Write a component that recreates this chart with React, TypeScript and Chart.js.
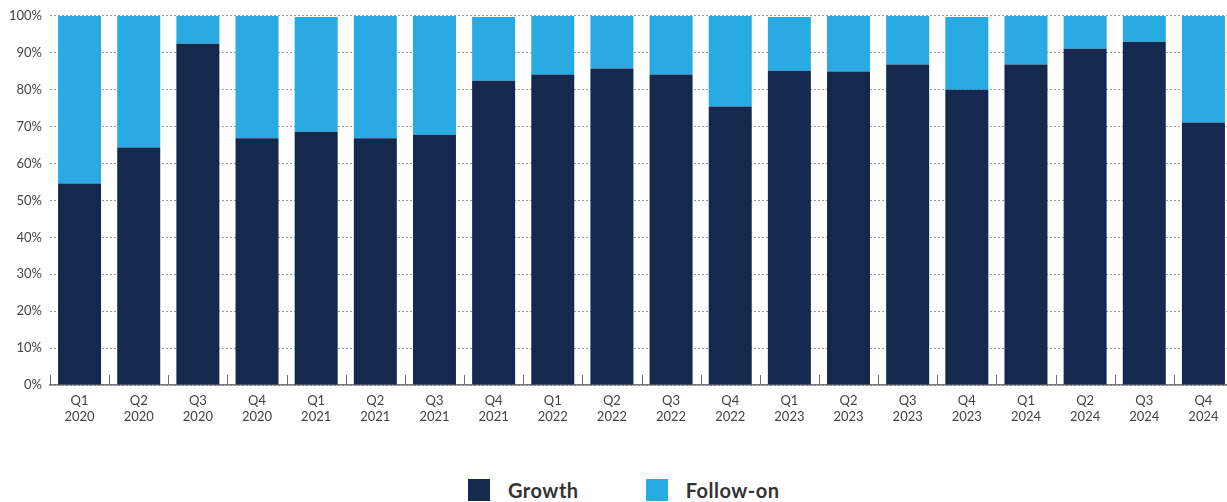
import React, { useEffect, useRef } from "react";
import { Chart, registerables } from "chart.js";

Chart.register(...registerables);

const categories: string[][] = [
  ["Q1", "2020"], ["Q2", "2020"], ["Q3", "2020"], ["Q4", "2020"],
  ["Q1", "2021"], ["Q2", "2021"], ["Q3", "2021"], ["Q4", "2021"],
  ["Q1", "2022"], ["Q2", "2022"], ["Q3", "2022"], ["Q4", "2022"],
  ["Q1", "2023"], ["Q2", "2023"], ["Q3", "2023"], ["Q4", "2023"],
  ["Q1", "2024"], ["Q2", "2024"], ["Q3", "2024"], ["Q4", "2024"],
];

const growth: number[] = [
  54.6, 64.3, 92.4, 66.8, 68.6, 66.8, 67.8, 82.4, 84.1, 85.7,
  84.1, 75.4, 85.1, 84.9, 86.8, 80.0, 86.8, 91.1, 93.0, 71.1,
];

const followOn: number[] = [
  45.4, 35.7, 7.6, 33.2, 31.1, 33.2, 32.2, 17.3, 15.9, 14.3,
  15.9, 24.6, 14.6, 15.1, 13.2, 19.7, 13.2, 8.9, 7.0, 28.9,
];

const yTicks: number[] = [0, 10, 20, 30, 40, 50, 60, 70, 80, 90, 100];

const NAVY = "#15294f";
const BLUE = "#29aae2";
const TEXT = "#444444";

const innerTicks = {
  id: "innerTicks",
  afterDatasetsDraw(chart: any) {
    const x = chart.scales.x;
    const area = chart.chartArea;
    const n = categories.length;
    const w = (area.right - area.left) / n;
    const ctx = chart.ctx;
    ctx.save();
    ctx.strokeStyle = "#6f6f6f";
    ctx.lineWidth = 1;
    for (let i = 0; i < n; i++) {
      const px = Math.round(x.getPixelForValue(i) - w / 2) + 0.5;
      ctx.beginPath();
      ctx.moveTo(px, area.bottom);
      ctx.lineTo(px, area.bottom - 10);
      ctx.stroke();
    }
    ctx.restore();
  },
};

export default function App() {
  const ref = useRef<HTMLCanvasElement | null>(null);

  useEffect(() => {
    if (!ref.current) return;
    const chart = new Chart(ref.current, {
      type: "bar",
      data: {
        labels: categories,
        datasets: [
          {
            label: "Growth",
            data: growth,
            backgroundColor: NAVY,
            barPercentage: 0.727,
            categoryPercentage: 1,
          },
          {
            label: "Follow-on",
            data: followOn,
            backgroundColor: BLUE,
            barPercentage: 0.727,
            categoryPercentage: 1,
          },
        ],
      },
      options: {
        animation: false,
        responsive: false,
        maintainAspectRatio: false,
        layout: { padding: { top: 15, right: 0, bottom: 0, left: 0 } },
        plugins: {
          legend: { display: false },
          tooltip: { enabled: false },
        },
        scales: {
          x: {
            stacked: true,
            grid: { display: false, drawTicks: false },
            border: { display: true, color: "#777777", width: 1.5 },
            ticks: {
              color: TEXT,
              padding: 8,
              maxRotation: 0,
              autoSkip: false,
              font: { family: "Lato", size: 13, lineHeight: 1.2 },
            },
            afterFit: (s: any) => {
              s.height = 75;
            },
          },
          y: {
            stacked: true,
            min: 0,
            max: 100,
            afterBuildTicks: (s: any) => {
              s.ticks = yTicks.map((v) => ({ value: v }));
            },
            grid: { color: "#9a9a9a", lineWidth: 1, drawTicks: false },
            border: { display: false, dash: [2, 2] },
            ticks: {
              color: TEXT,
              padding: 8,
              font: { family: "Lato", size: 13 },
              callback: (v: any) => `${v}%`,
            },
            afterFit: (s: any) => {
              s.width = 50;
            },
          },
        },
      },
      plugins: [innerTicks],
    });
    return () => chart.destroy();
  }, []);

  return (
    <div
      style={{
        position: "fixed",
        left: 0,
        top: 0,
        width: 1227,
        height: 502,
        overflow: "hidden",
        background: "#ffffff",
      }}
    >
      <canvas
        ref={ref}
        width={1233}
        height={460}
        style={{ position: "absolute", left: 0, top: 0, width: 1233, height: 460 }}
      />
      <div
        style={{
          position: "absolute",
          left: 468,
          top: 479,
          display: "flex",
          alignItems: "center",
          fontFamily: "Lato",
          fontWeight: 700,
          fontSize: 20,
          letterSpacing: "0.5px",
          lineHeight: "22px",
          color: "#333333",
        }}
      >
        <span style={{ width: 22, height: 22, background: NAVY, display: "inline-block" }} />
        <span style={{ marginLeft: 18 }}>Growth</span>
        <span
          style={{ width: 22, height: 22, background: BLUE, display: "inline-block", marginLeft: 67 }}
        />
        <span style={{ marginLeft: 18 }}>Follow-on</span>
      </div>
    </div>
  );
}
